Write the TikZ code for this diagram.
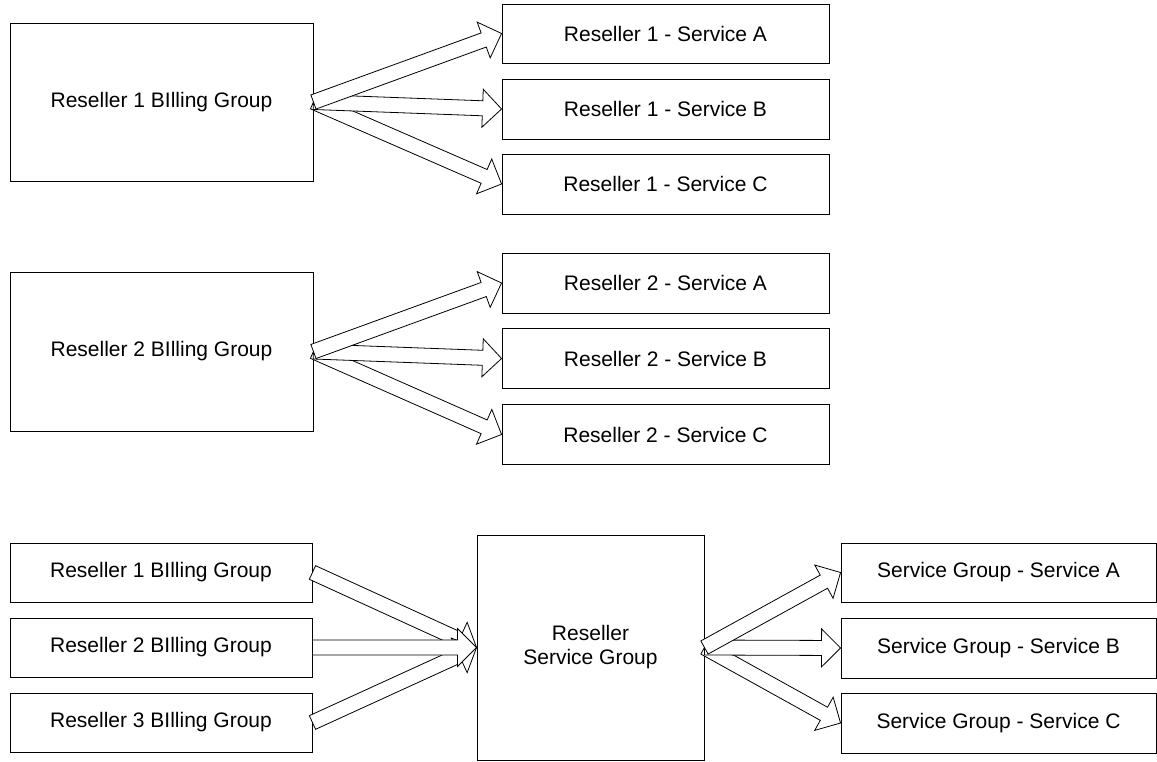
\documentclass[tikz,border=0pt]{standalone}
\usepackage{fontspec}
\setmainfont{Liberation Sans}
\usetikzlibrary{calc}
\tikzset{
  box/.style={draw=black, line width=0.9pt, fill=white, inner sep=0pt, align=center,
    font=\fontsize{21}{24}\selectfont},
  barrow/.style={draw=black, fill=white, line width=0.8pt, line join=miter},
}
\newcommand\blockarr[2]{%
  \filldraw[barrow] let \p1=(#1), \p2=(#2),
    \n1={atan2(\y2-\y1,\x2-\x1)},
    \n2={veclen(\x2-\x1,\y2-\y1)-19} in
    ($(\p1)+(\n1-90:7.5)$) --
    ($(\p1)+(\n1:\n2)+(\n1-90:7.5)$) --
    ($(\p1)+(\n1:\n2)+(\n1-90:19)$) --
    (\p2) --
    ($(\p1)+(\n1:\n2)+(\n1+90:19)$) --
    ($(\p1)+(\n1:\n2)+(\n1+90:7.5)$) --
    ($(\p1)+(\n1+90:7.5)$) -- cycle;%
}
\begin{document}
\begin{tikzpicture}[x=1pt,y=1pt]
\useasboundingbox (0,0) rectangle (1157,761);
% group 1
\node[box, minimum width=303, minimum height=158] (g1) at (161.5,659) {Reseller 1 BIlling Group};
\node[box, minimum width=327, minimum height=59] (s1a) at (665.5,727.5) {Reseller 1 - Service A};
\node[box, minimum width=327, minimum height=60] (s1b) at (665.5,652) {Reseller 1 - Service B};
\node[box, minimum width=327, minimum height=60] (s1c) at (665.5,577) {Reseller 1 - Service C};
% group 2
\node[box, minimum width=303, minimum height=159] (g2) at (161.5,409.5) {Reseller 2 BIlling Group};
\node[box, minimum width=327, minimum height=60] (s2a) at (665.5,478) {Reseller 2 - Service A};
\node[box, minimum width=327, minimum height=60] (s2b) at (665.5,402.5) {Reseller 2 - Service B};
\node[box, minimum width=327, minimum height=60] (s2c) at (665.5,326.5) {Reseller 2 - Service C};
% group 3
\node[box, minimum width=302, minimum height=59] (b1) at (161,188.5) {Reseller 1 BIlling Group};
\node[box, minimum width=302, minimum height=59] (b2) at (161,113.5) {Reseller 2 BIlling Group};
\node[box, minimum width=302, minimum height=59] (b3) at (161,38.5) {Reseller 3 BIlling Group};
\node[box, minimum width=227, minimum height=225] (rsg) at (590.5,113.5) {Reseller\\Service Group};
\node[box, minimum width=315, minimum height=59] (t1) at (998.5,188.5) {Service Group - Service A};
\node[box, minimum width=315, minimum height=60] (t2) at (998.5,113) {Service Group - Service B};
\node[box, minimum width=315, minimum height=60] (t3) at (998.5,38) {Service Group - Service C};
% arrows
\blockarr{g1.east}{s1c.west}
\blockarr{g1.east}{s1b.west}
\blockarr{g1.east}{s1a.west}
\blockarr{g2.east}{s2c.west}
\blockarr{g2.east}{s2b.west}
\blockarr{g2.east}{s2a.west}
\blockarr{b1.east}{rsg.west}
\blockarr{b3.east}{rsg.west}
\blockarr{b2.east}{rsg.west}
\blockarr{rsg.east}{t3.west}
\blockarr{rsg.east}{t2.west}
\blockarr{rsg.east}{t1.west}
\end{tikzpicture}
\end{document}
